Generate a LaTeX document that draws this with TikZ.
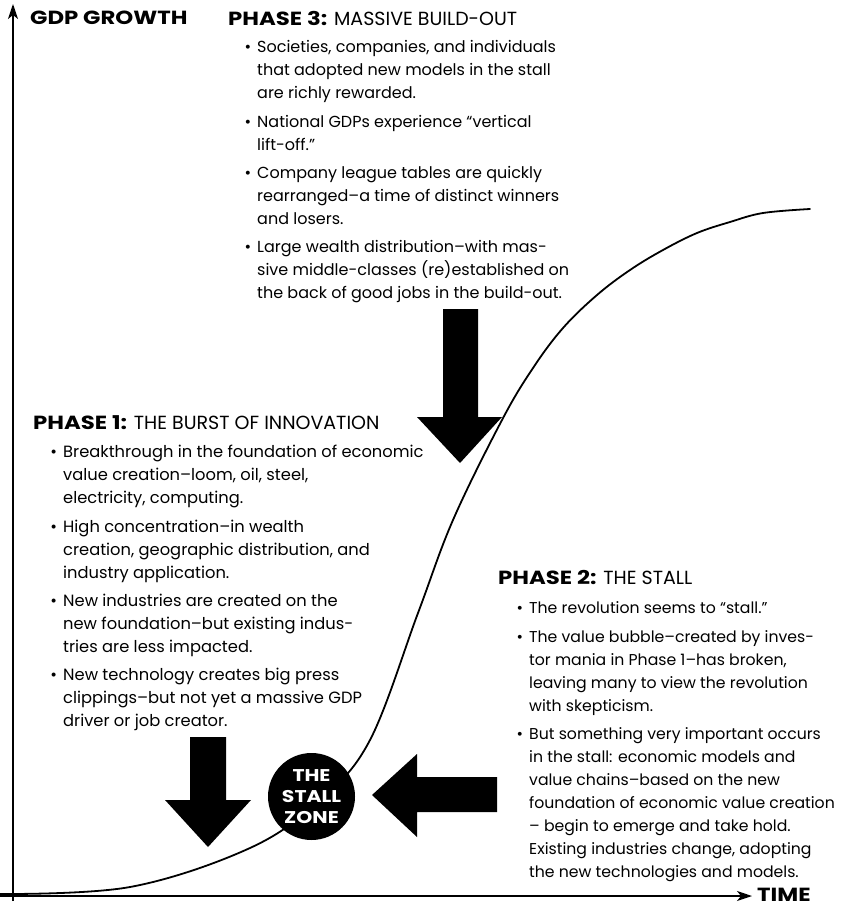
\documentclass[tikz,border=0pt]{standalone}
\usepackage{fontspec}
\setmainfont{Poppins}
\newfontfamily\heavy{Poppins}[FakeStretch=1.2]
\usetikzlibrary{arrows.meta,positioning}

\tikzset{
  phasehead/.style={anchor=west,inner sep=0pt,font=\fontsize{19}{22}\selectfont},
  item/.style={inner sep=0pt,align=left,font=\fontsize{#1}{23}\selectfont},
  item/.default=16.3,
  axis/.style={line width=1.4pt,-{Stealth[length=15pt,width=10pt,inset=4pt]}},
  axislabel/.style={inner sep=0pt,font=\fontsize{19}{22}\selectfont\heavy\bfseries},
  blockarrow/.style={fill=black},
  scurve/.style={line width=1.8pt,line cap=round},
}
\newcommand\bul{\llap{\textbullet\hspace{6pt}}\strut}

\begin{document}
\begin{tikzpicture}[x=1pt,y=-1pt]
    \useasboundingbox (0,0) rectangle (845,907);

    % axes
    \node[axislabel,anchor=west] (gdp) at (30,18) {GDP GROWTH};
    \node[axislabel,anchor=west] (time) at (757,895) {TIME};
    \coordinate (ybase) at (13,901);
    \coordinate (ytip) at (13,4);
    \coordinate (xbase) at (0,896);
    \draw[axis] (ybase) -- (ytip);
    \draw[axis,shorten >=5pt] (xbase) -- (time.west |- xbase);

    % the s-curve
    \draw[scurve] plot[smooth,tension=0.6] coordinates {(0,894) (130,887) (250,848) (320,800) (370,740) (418,613) (453,520) (502,420) (533,368) (563,328) (597,295) (630,270) (663,250) (697,233) (730,222) (763,213) (810,209)};

    % phase 3
    \node[phasehead] (p3) at (228,18) {{\heavy\bfseries PHASE 3:} MASSIVE BUILD-OUT};
    \coordinate (p3-0) at (257,31.4);
    \foreach \t [count=\i, remember=\i as \j (initially 0)] in {
      {Societies, companies, and individuals\\that adopted new models in the stall\\are richly rewarded.},
      {National GDPs experience “vertical\\lift-off.”},
      {Company league tables are quickly\\rearranged–a time of distinct winners\\and losers.},
      {Large wealth distribution–with mas-\\sive middle-classes (re)established on\\the back of good jobs in the build-out.}}{
      \node[item=16, below right=5pt and 0pt of p3-\j.south west] (p3-\i) {\bul\t\strut};
    }

    % phase 1
    \node[phasehead] (p1) at (33,423) {{\heavy\bfseries PHASE 1:} THE BURST OF INNOVATION};
    \coordinate (p1-0) at (63,436.4);
    \foreach \t [count=\i, remember=\i as \j (initially 0)] in {
      {Breakthrough in the foundation of economic\\value creation–loom, oil, steel,\\electricity, computing.},
      {High concentration–in wealth\\creation, geographic distribution, and\\industry application.},
      {New industries are created on the\\new foundation–but existing indus-\\tries are less impacted.},
      {New technology creates big press\\clippings–but not yet a massive GDP\\driver or job creator.}}{
      \node[item, below right=5pt and 0pt of p1-\j.south west] (p1-\i) {\bul\t\strut};
    }

    % phase 2
    \node[phasehead] (p2) at (498,577) {{\heavy\bfseries PHASE 2:} THE STALL};
    \coordinate (p2-0) at (529,592.4);
    \foreach \t [count=\i, remember=\i as \j (initially 0)] in {
      {The revolution seems to “stall.”},
      {The value bubble–created by inves-\\tor mania in Phase 1–has broken,\\leaving many to view the revolution\\with skepticism.},
      {But something very important occurs\\in the stall: economic models and\\value chains–based on the new\\foundation of economic value creation\\– begin to emerge and take hold.\\Existing industries change, adopting\\the new technologies and models.}}{
      \node[item=15.7, below right=5pt and 0pt of p2-\j.south west] (p2-\i) {\bul\t\strut};
    }

    % block arrows
    \fill[blockarrow] (443,309) -- (478,309) -- (478,417) -- (502,417) -- (460,463) -- (417,417) -- (443,417) -- cycle;
    \fill[blockarrow] (190,737) -- (226,737) -- (226,800) -- (251,800) -- (208,847) -- (165,800) -- (190,800) -- cycle;
    \fill[blockarrow] (497,777) -- (497,812) -- (417,812) -- (417,837) -- (372,795) -- (417,754) -- (417,777) -- cycle;

    % stall zone
    \node[circle,fill=black,minimum size=87pt,inner sep=0pt,text=white,align=center,
      font=\fontsize{17}{21}\selectfont\heavy\bfseries] (stall) at (311.5,796.5) {THE\\STALL\\ZONE};
  \end{tikzpicture}
\end{document}
